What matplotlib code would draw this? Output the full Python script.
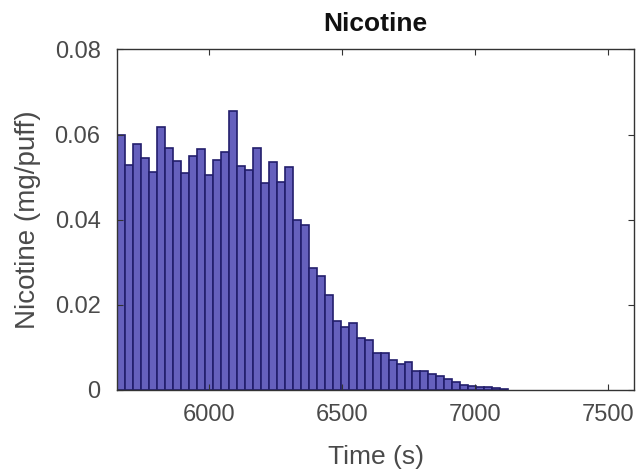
import matplotlib
matplotlib.use("Agg")
import matplotlib.pyplot as plt

plt.rcParams['font.family'] = ['Liberation Sans', 'DejaVu Sans']

time_s = [5670, 5700, 5730, 5760, 5790, 5820, 5850, 5880, 5910, 5940,
          5970, 6000, 6030, 6060, 6090, 6120, 6150, 6180, 6210, 6240,
          6270, 6300, 6330, 6360, 6390, 6420, 6450, 6480, 6510, 6540,
          6570, 6600, 6630, 6660, 6690, 6720, 6750, 6780, 6810, 6840,
          6870, 6900, 6930, 6960, 6990, 7020, 7050, 7080, 7110]
nicotine = [0.0599, 0.0528, 0.0578, 0.0544, 0.0511, 0.0617, 0.0569, 0.0539, 0.0509, 0.0550,
            0.0565, 0.0506, 0.0540, 0.0560, 0.0655, 0.0526, 0.0517, 0.0568, 0.0487, 0.0535,
            0.0489, 0.0524, 0.0399, 0.0387, 0.0286, 0.0268, 0.0222, 0.0162, 0.0148, 0.0158,
            0.0121, 0.0117, 0.0087, 0.0088, 0.0071, 0.0061, 0.0065, 0.0045, 0.0044, 0.0037,
            0.0032, 0.0026, 0.0019, 0.0012, 0.0010, 0.0008, 0.0006, 0.0005, 0.0003]
bin_width = 30
x_ticks = [6000, 6500, 7000, 7500]
y_ticks = [0, 0.02, 0.04, 0.06, 0.08]
y_ticklabels = ['0', '0.02', '0.04', '0.06', '0.08']

fig = plt.figure(figsize=(6.37, 4.75), dpi=100)
ax = fig.add_axes([0.184, 0.179, 0.811, 0.717])

ax.bar(time_s, nicotine, width=bin_width, color='#6560bd', edgecolor='#221e6c',
       linewidth=1.2, align='center')

ax.set_xlim(5655, 7597)
ax.set_ylim(0, 0.08)
ax.set_xticks(x_ticks)
ax.set_yticks(y_ticks)
ax.set_yticklabels(y_ticklabels)

ax.tick_params(direction='in', top=True, right=True, length=4, width=0.8,
               color='#333333', labelsize=17, labelcolor='#4a4a4a')
ax.tick_params(axis='x', pad=10)
ax.tick_params(axis='y', pad=12)
for s in ax.spines.values():
    s.set_color('#333333')
    s.set_linewidth(1.0)

ax.set_title('Nicotine', fontsize=19, fontweight='bold', color='#111111', pad=13)
ax.set_xlabel('Time (s)', fontsize=19, color='#4a4a4a', labelpad=14)
ax.set_ylabel('Nicotine (mg/puff)', fontsize=20, color='#4a4a4a', labelpad=10)

fig.savefig('out.png', dpi=100, facecolor='white')
